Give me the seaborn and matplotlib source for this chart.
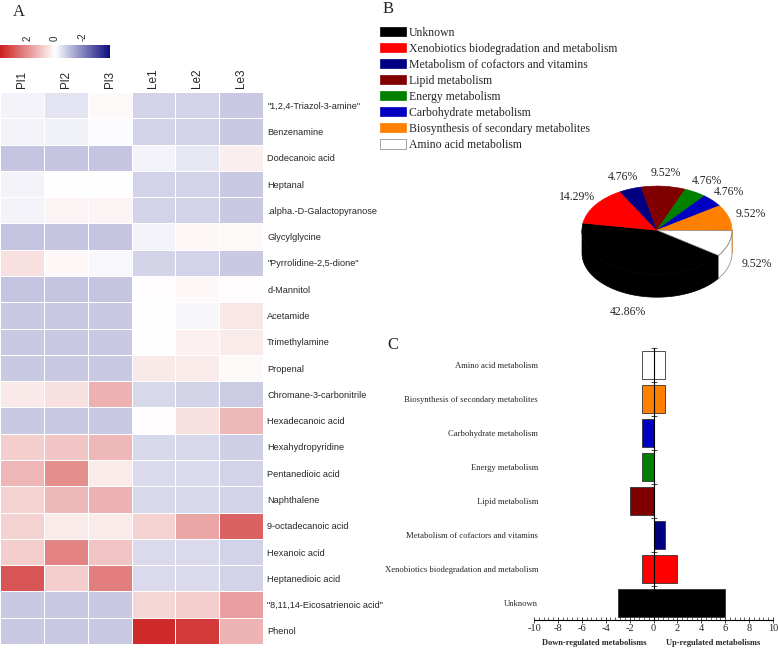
import numpy as np
import pandas as pd
import matplotlib
matplotlib.use('Agg')
import matplotlib.pyplot as plt
import seaborn as sns
from matplotlib.colors import LinearSegmentedColormap, to_hex
from matplotlib.patches import Polygon
from matplotlib.ticker import MultipleLocator, AutoMinorLocator, FixedLocator
from matplotlib import font_manager

# ---- panel A: heatmap data (z-scores) ----
compounds = ['"1,2,4-Triazol-3-amine"', 'Benzenamine', 'Dodecanoic acid', 'Heptanal',
             '.alpha.-D-Galactopyranose', 'Glycylglycine', '"Pyrrolidine-2,5-dione"',
             'd-Mannitol', 'Acetamide', 'Trimethylamine', 'Propenal',
             'Chromane-3-carbonitrile', 'Hexadecanoic acid', 'Hexahydropyridine',
             'Pentanedioic acid', 'Naphthalene', '9-octadecanoic acid', 'Hexanoic acid',
             'Heptanedioic acid', '"8,11,14-Eicosatrienoic acid"', 'Phenol']
samples = ['Pl1', 'Pl2', 'Pl3', 'Le1', 'Le2', 'Le3']
pl1 = [-0.2, -0.2, -0.95, -0.2, -0.2, -0.95, 0.55, -0.95, -0.9, -0.9, -0.9,
       0.4, -0.9, 0.9, 1.3, 0.8, 0.8, 0.9, 3.0, -0.9, -0.9]
pl2 = [-0.45, -0.25, -0.95, 0.0, 0.2, -0.95, 0.15, -0.95, -0.9, -0.9, -0.9,
       0.55, -0.9, 1.0, 2.0, 1.25, 0.35, 2.2, 0.9, -0.9, -0.9]
pl3 = [0.1, -0.05, -0.95, 0.0, 0.2, -0.95, -0.1, -0.95, -0.9, -0.9, -0.9,
       1.4, -0.9, 1.25, 0.35, 1.4, 0.35, 1.05, 2.3, -0.9, -0.9]
le1 = [-0.75, -0.75, -0.2, -0.75, -0.75, -0.2, -0.7, 0.05, 0.0, 0.0, 0.4,
       -0.65, 0.05, -0.65, -0.6, -0.65, 0.8, -0.6, -0.6, 0.7, 3.8]
le2 = [-0.75, -0.75, -0.4, -0.75, -0.75, 0.15, -0.75, 0.15, -0.15, 0.25, 0.35,
       -0.7, 0.55, -0.65, -0.6, -0.65, 1.6, -0.6, -0.6, 0.9, 3.5]
le3 = [-0.9, -0.9, 0.3, -0.9, -0.9, 0.1, -0.9, 0.05, 0.45, 0.35, 0.1,
       -0.85, 1.25, -0.8, -0.75, -0.75, 2.8, -0.75, -0.75, 1.7, 1.35]

# ---- panels B and C: metabolic pathways ----
pathways = ['Unknown', 'Xenobiotics biodegradation and metabolism',
            'Metabolism of cofactors and vitamins', 'Lipid metabolism',
            'Energy metabolism', 'Carbohydrate metabolism',
            'Biosynthesis of secondary metabolites', 'Amino acid metabolism']
pathway_counts = [9, 3, 1, 2, 1, 1, 2, 2]
up_counts = [6, 2, 1, 0, 0, 0, 1, 1]
down_counts = [3, 1, 0, 2, 1, 1, 1, 1]
pathway_colors = ['#000000', '#ff0000', '#000080', '#800000',
                  '#008000', '#0000c0', '#ff8000', '#ffffff']

sns.set_style('white')
plt.rcParams['font.family'] = ['Liberation Serif', 'DejaVu Serif']
plt.rcParams['axes.unicode_minus'] = False
installed = {f.name for f in font_manager.fontManager.ttflist}
narrow = 'Liberation Sans Narrow' if 'Liberation Sans Narrow' in installed else 'Liberation Sans'
row_size = 7 if narrow == 'Liberation Sans Narrow' else 6.6

W, H = 778, 649
fig = plt.figure(figsize=(W / 100, H / 100), dpi=100)


def box(x0, y0, x1, y1):
    # pixel box (from top-left) -> figure fraction rect
    return [x0 / W, 1 - y1 / H, (x1 - x0) / W, (y1 - y0) / H]


# ==========================================
# A: heatmap
# ==========================================
ax_h = fig.add_axes(box(0, 92, 263, 644))
cax = fig.add_axes(box(0, 45, 110, 58))
heat = pd.DataFrame(dict(zip(samples, [pl1, pl2, pl3, le1, le2, le3])), index=compounds)
cmap = LinearSegmentedColormap.from_list('navy_white_red', ['#0c0c80', '#ffffff', '#cc1f1f'])
sns.heatmap(heat, ax=ax_h, cmap=cmap, vmin=-4, vmax=4, linewidths=0.6, linecolor='white',
            cbar_ax=cax, cbar_kws={'orientation': 'horizontal', 'ticks': [-2, 0, 2]})
ax_h.xaxis.tick_top()
ax_h.yaxis.tick_right()
ax_h.set_xticklabels(samples, rotation=90, family=narrow, fontsize=8.5)
ax_h.set_yticklabels(compounds, rotation=0, ha='left', family=narrow, fontsize=row_size)
ax_h.tick_params(length=0, pad=3)
ax_h.set_xlabel('')
ax_h.set_ylabel('')

cax.invert_xaxis()
cax.xaxis.set_ticks_position('top')
cax.set_xticks([-2, 0, 2])
cax.set_xticklabels(['-2', '0', '2'], rotation=90, family=narrow, fontsize=7)
cax.tick_params(length=0, pad=3)
ax_h.collections[0].colorbar.outline.set_visible(False)

# ==========================================
# B: pseudo-3D pie
# ==========================================
ax_p = fig.add_axes(box(537, 142, 777, 336))
wedges, texts, autotexts = ax_p.pie(
    pathway_counts, colors=pathway_colors, startangle=325, counterclock=False,
    autopct='%.2f%%', pctdistance=1.3,
    wedgeprops=dict(linewidth=0.5), textprops=dict(fontsize=8.5))
ax_p.set_aspect('auto')
ax_p.set_xlim(-1.6, 1.6)
ax_p.set_ylim(-2.4, 2.0)
depth = 0.52


def edge_for(color):
    # only the white slice shows a grey outline
    return '#7f7f7f' if to_hex(color) == '#ffffff' else color


for w in wedges:
    w.set_edgecolor(edge_for(w.get_facecolor()))

# side walls for the front half of the disc
for w in wedges:
    for k in (-360, 0, 360):
        a, b = max(w.theta1, 180 + k), min(w.theta2, 360 + k)
        if a >= b:
            continue
        t = np.radians(np.linspace(a, b, 60))
        top = np.column_stack([np.cos(t), np.sin(t)])
        bot = np.column_stack([np.cos(t[::-1]), np.sin(t[::-1]) - depth])
        fc = w.get_facecolor()
        ax_p.add_patch(Polygon(np.vstack([top, bot]), closed=True, facecolor=fc,
                               edgecolor=edge_for(fc), linewidth=0.5, zorder=0.5))

# drop the front labels below the wall
for w, txt in zip(wedges, autotexts):
    mid = np.radians((w.theta1 + w.theta2) / 2)
    if np.sin(mid) < 0:
        x, y = txt.get_position()
        txt.set_position((x + 0.1, y - 1.3 * depth * np.sqrt(-np.sin(mid))))

fig.legend(wedges, pathways, loc='upper left', bbox_to_anchor=(380 / W, 1 - 27 / H),
           frameon=False, fontsize=8.5, handlelength=2.2, handleheight=0.8,
           handletextpad=0.25, labelspacing=0.34, borderaxespad=0, borderpad=0)

# ==========================================
# C: up / down regulated pathways
# ==========================================
ax_b = fig.add_axes(box(534, 348, 773, 620))
order = pathways[::-1]
bar_colors = dict(zip(pathways, pathway_colors))
up_vals = up_counts[::-1]
down_vals = [-d for d in down_counts[::-1]]
for vals in (up_vals, down_vals):
    sns.barplot(x=vals, y=order, hue=order, order=order, palette=bar_colors, orient='h',
                width=0.8, saturation=1, edgecolor='#333333', linewidth=0.6,
                errorbar=None, legend=False, ax=ax_b)

ax_b.set_xlim(-10, 10)
ax_b.set_ylim(len(order) - 0.5, -0.5)
ax_b.set_xlabel('')
ax_b.set_ylabel('')
for side in ('top', 'left'):
    ax_b.spines[side].set_visible(False)
ax_b.spines['right'].set_position(('data', 0))
for side in ('right', 'bottom'):
    ax_b.spines[side].set_color('black')
    ax_b.spines[side].set_linewidth(0.8)

ax_b.xaxis.set_major_locator(MultipleLocator(2))
ax_b.xaxis.set_minor_locator(AutoMinorLocator(5))
ax_b.tick_params(axis='x', which='major', bottom=True, direction='inout', length=4,
                 width=0.6, labelsize=7.5, pad=1)
ax_b.tick_params(axis='x', which='minor', bottom=True, direction='in', length=2, width=0.5)
ax_b.yaxis.set_minor_locator(FixedLocator(np.arange(-0.5, len(order))))
ax_b.tick_params(axis='y', which='major', left=False, right=False, length=0,
                 labelsize=6.2, pad=-3)
ax_b.tick_params(axis='y', which='minor', left=False, right=True, direction='inout',
                 length=4, width=0.6)

for xpos, label in ((-5, 'Down-regulated metabolisms'), (5, 'Up-regulated metabolisms')):
    ax_b.annotate(label, xy=(xpos, 0), xycoords=('data', 'axes fraction'),
                  xytext=(0, -23), textcoords='offset pixels', ha='center', va='center',
                  fontsize=6, fontweight='bold')

# panel letters
fig.text(13 / W, 1 - 4 / H, 'A', va='top', fontsize=12)
fig.text(383 / W, 1 - 1 / H, 'B', va='top', fontsize=12)
fig.text(387 / W, 1 - 337 / H, 'C', va='top', fontsize=12)

fig.savefig('out.png', dpi=100)
